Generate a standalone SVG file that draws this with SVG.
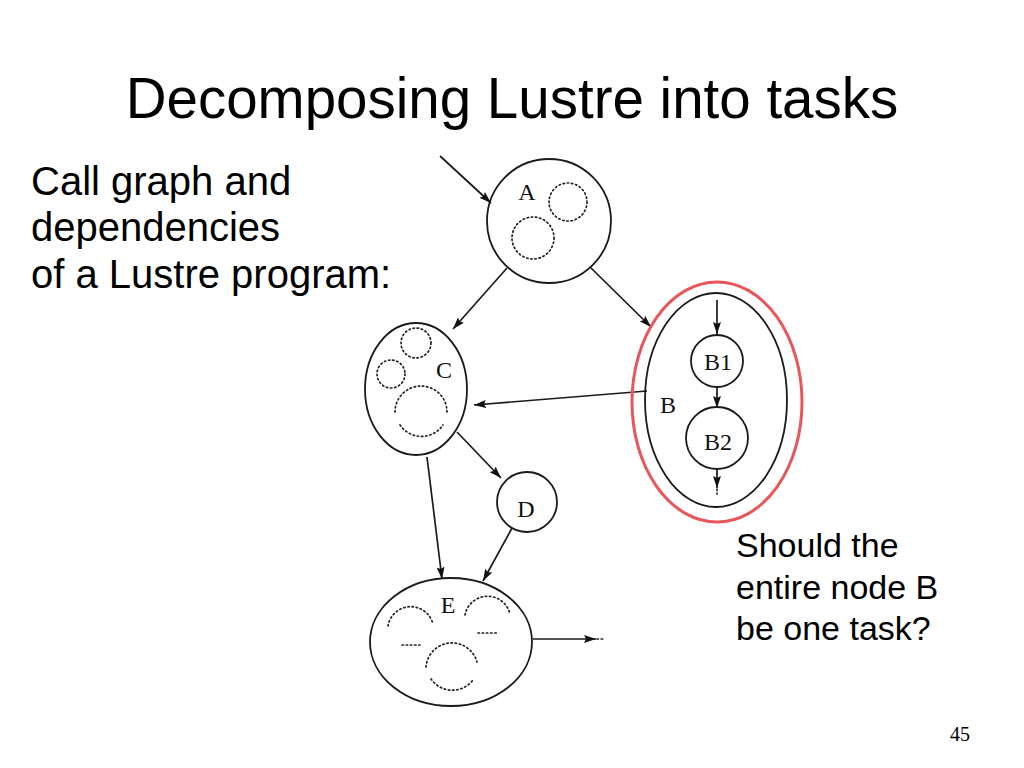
<svg xmlns="http://www.w3.org/2000/svg" width="1024" height="768" viewBox="0 0 1024 768">
<style>
.t{font-family:"Liberation Sans",Arial,sans-serif;fill:#000}
.lbl{font-family:"Liberation Serif","Times New Roman",serif;fill:#111;font-size:24px;text-anchor:middle}
.n{fill:none;stroke:#1a1a1a;stroke-width:1.8}
.d{fill:none;stroke:#222;stroke-width:1.7;stroke-dasharray:1.4 2.8;stroke-linecap:round}
.e{fill:none;stroke:#1a1a1a;stroke-width:1.7;marker-end:url(#arr)}
</style>
<defs>
<marker id="arr" viewBox="0 0 12 8" refX="12" refY="4" markerWidth="12" markerHeight="8" markerUnits="userSpaceOnUse" orient="auto">
<path d="M0,0 L12,4 L0,8 L2,4 Z" fill="#111"/>
</marker>
</defs>
<rect width="1024" height="768" fill="#fff"/>
<text class="t" x="512" y="118" font-size="56.5" text-anchor="middle">Decomposing Lustre into tasks</text>
<g id="caption-left" class="t" font-size="40">
<text x="31" y="195">Call graph and</text>
<text x="31" y="241">dependencies</text>
<text x="31" y="288">of a Lustre program:</text>
</g>
<g id="caption-right" class="t" font-size="34">
<text x="736" y="557">Should the</text>
<text x="736" y="599">entire node B</text>
<text x="736" y="640">be one task?</text>
</g>
<text x="960" y="741" font-family="'Liberation Serif','Times New Roman',serif" font-size="20" text-anchor="middle">45</text>

<g id="connectors">
<path class="e" d="M440,156 L491,203"/>
<path class="e" d="M507,268 L453,329"/>
<path class="e" d="M590,267 L651,327"/>
<path class="e" d="M647,391 L474,405"/>
<path class="e" d="M457,432 L501,478"/>
<path class="e" d="M427,457 L442,579"/>
<path class="e" d="M512,528 L483,581"/>
<path class="e" d="M533,639 L596,639"/>
<path class="d" d="M597,639 L605,639"/>
<path class="e" d="M717,300 L717,334"/>
<path class="e" d="M717,387 L717,408"/>
<path class="e" d="M717,469 L717,488"/>
<path class="d" d="M717,489 L717,494"/>
</g>

<g id="node-A">
<circle class="n" cx="549" cy="221" r="62"/>
<circle class="d" cx="568" cy="202" r="19"/>
<circle class="d" cx="533" cy="238" r="21"/>
<text class="lbl" x="527" y="200">A</text>
</g>

<g id="node-C">
<ellipse class="n" cx="416" cy="389" rx="51" ry="66"/>
<circle class="d" cx="416" cy="343" r="15"/>
<circle class="d" cx="391" cy="374" r="14"/>
<path class="d" d="M395,412 A26,26 0 1 1 447,412"/>
<path class="d" d="M400,425 A26,26 0 0 0 443,425"/>
<text class="lbl" x="444" y="378">C</text>
</g>

<g id="node-B">
<ellipse cx="717" cy="402" rx="85" ry="120" fill="none" stroke="#e8565a" stroke-width="3"/>
<ellipse class="n" cx="716" cy="400" rx="71" ry="107"/>
<text class="lbl" x="668" y="413">B</text>
<g id="node-B1">
<circle class="n" cx="717" cy="361" r="26"/>
<text class="lbl" x="718" y="370">B1</text>
</g>
<g id="node-B2">
<circle class="n" cx="717" cy="438" r="31"/>
<text class="lbl" x="718" y="450">B2</text>
</g>
</g>

<g id="node-D">
<circle class="n" cx="527" cy="502" r="30"/>
<text class="lbl" x="526" y="517">D</text>
</g>

<g id="node-E">
<ellipse class="n" cx="451" cy="642" rx="81" ry="64"/>
<path class="d" d="M388,626 A23,23 0 0 1 433,624"/>
<path class="d" d="M465,615 A23,23 0 0 1 510,614"/>
<path class="d" d="M402,645 L420,645"/>
<path class="d" d="M478,633 L497,633"/>
<path class="d" d="M426,667 A26,26 0 0 1 477,662"/>
<path class="d" d="M431,679 A26,26 0 0 0 473,680"/>
<text class="lbl" x="448" y="613">E</text>
</g>
</svg>
